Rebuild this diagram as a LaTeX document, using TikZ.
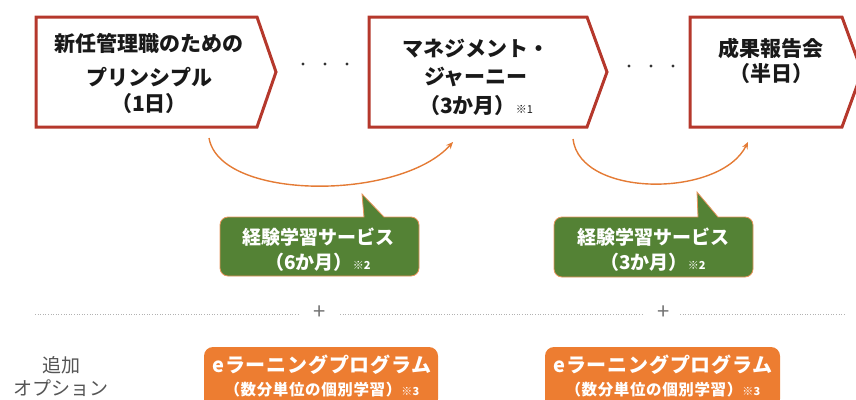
\documentclass[tikz,border=0pt]{standalone}
\usepackage{fontspec}
\setmainfont{Noto Sans CJK JP}
\usetikzlibrary{arrows.meta}
\definecolor{boxred}{HTML}{B5382C}
\definecolor{arrorange}{HTML}{E47B35}
\definecolor{bgreen}{HTML}{548235}
\definecolor{borange}{HTML}{ED7D31}
\definecolor{txtgray}{HTML}{555555}
\tikzset{
  stagebox/.style={draw=boxred, line width=3pt, fill=white, line join=miter},
  stagetext/.style={align=center, inner sep=0pt, font=\fontsize{21}{26}\selectfont\bfseries, text=black!90},
  curvearrow/.style={draw=arrorange, line width=1.4pt, -{Stealth[length=7pt,width=6pt]}},
  callout/.style={fill=bgreen, draw=arrorange!80, line width=0.8pt},
  callouttext/.style={align=center, inner sep=0pt, text=white, font=\fontsize{19}{25}\selectfont\bfseries},
  elbox/.style={fill=borange, rounded corners=9pt},
  eltext/.style={align=center, inner sep=0pt, text=white, font=\fontsize{20}{23}\selectfont\bfseries\addfontfeatures{LetterSpace=4}},
  dotline/.style={draw=black!30, dotted, line width=0.6pt},
  plus/.style={text=black!55, inner sep=0pt, font=\fontsize{22}{22}\selectfont},
}
\begin{document}
\begin{tikzpicture}[x=1pt,y=-1pt]
\useasboundingbox (0,0) rectangle (856,399);
\clip (0,0) rectangle (856,399);
% stage boxes
\draw[stagebox] (36,17) -- (257,17) -- (276,72) -- (257,127) -- (36,127) -- cycle;
\draw[stagebox] (369,17) -- (587,17) -- (607,72) -- (587,127) -- (369,127) -- cycle;
\draw[stagebox] (690,17) -- (842,17) -- (862,72) -- (842,127) -- (690,127) -- cycle;
\node[stagetext] (s1) at (149,73) {新任管理職のための\\[8pt]プリンシプル\\（1日）};
\node[stagetext, font=\fontsize{21}{28.5}\selectfont\bfseries] (s2) at (476,77) {マネジメント・\\ジャーニー\\（3か月）{\fontsize{11}{11}\selectfont\mdseries ※1}};
\node[stagetext, font=\fontsize{21}{25}\selectfont\bfseries] (s3) at (771,61) {成果報告会\\（半日）};
% dots
\foreach \x in {303,325,347} \fill[black!80] (\x,64) circle (1.7pt);
\foreach \x in {629,651,673} \fill[black!80] (\x,66) circle (1.7pt);
% curved arrows
\coordinate (a1s) at (209,138);
\coordinate (a1e) at (453,142);
\coordinate (a2s) at (573,139);
\coordinate (a2e) at (748,142);
\draw[curvearrow] (a1s) .. controls (220,201) and (400,201) .. (a1e);
\draw[curvearrow] (a2s) .. controls (580,198) and (720,198) .. (a2e);
% callouts
\draw[callout] (300,217) -- (364,217) -- (362,194) -- (384,217) -- (400,217) [rounded corners=8pt] -- (419,217) -- (419,276) -- (220,276) -- (220,217) -- cycle;
\draw[callout] (630,217) -- (698,217) -- (697,192) -- (718,217) -- (735,217) [rounded corners=8pt] -- (753,217) -- (753,277) -- (554,277) -- (554,217) -- cycle;
\node[callouttext] (c1) at (318,250) {経験学習サービス\\（6か月）{\fontsize{11}{11}\selectfont ※2}};
\node[callouttext] (c2) at (653,250) {経験学習サービス\\（3か月）{\fontsize{11}{11}\selectfont ※2}};
% separator
\draw[dotline] (35,314) -- (300,314);
\draw[dotline] (340,314) -- (643,314);
\draw[dotline] (680,314) -- (845,314);
\node[plus] (p1) at (320,313) {+};
\node[plus] (p2) at (664,313) {+};
% options
\node[align=center, inner sep=0pt, text=txtgray, font=\fontsize{19}{23}\selectfont] (opt) at (61,377) {追加\\オプション};
\fill[elbox] (204,347) rectangle (438,408);
\fill[elbox] (545,347) rectangle (780,408);
\node[eltext] (e1) at (322,376) {eラーニングプログラム\\{\fontsize{15.5}{15.5}\selectfont（数分単位の個別学習）{\fontsize{11}{11}\selectfont ※3}}};
\node[eltext] (e2) at (663,376) {eラーニングプログラム\\{\fontsize{15.5}{15.5}\selectfont（数分単位の個別学習）{\fontsize{11}{11}\selectfont ※3}}};
\end{tikzpicture}
\end{document}
